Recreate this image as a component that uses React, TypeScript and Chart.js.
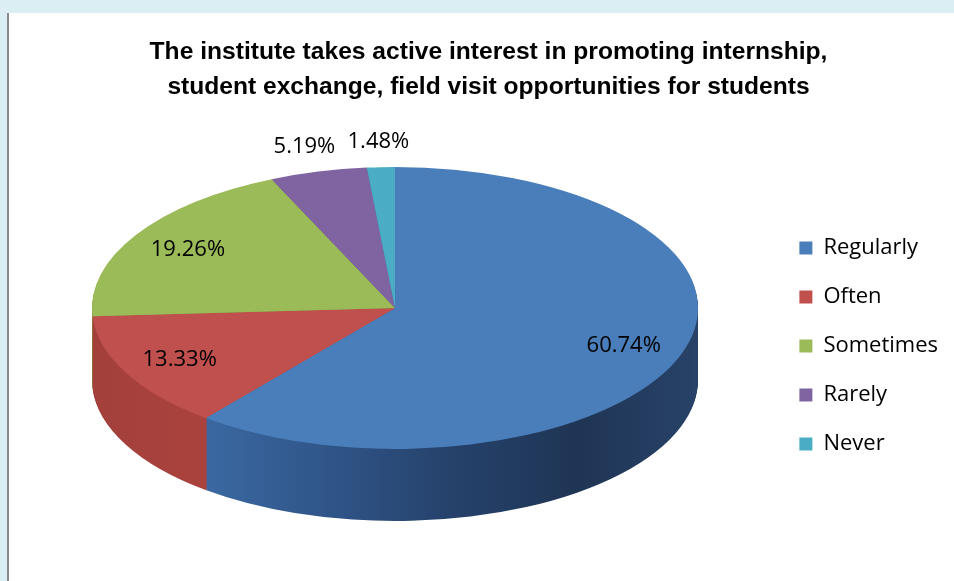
import React, { useEffect, useRef } from "react";
import { Chart, registerables } from "chart.js";

Chart.register(...registerables);

const categories = ["Regularly", "Often", "Sometimes", "Rarely", "Never"];
const percentages = [60.74, 13.33, 19.26, 5.19, 1.48];
const sliceColors = ["#4a7ebb", "#c0504d", "#9bbb59", "#8064a2", "#4bacc6"];
const sideColorStops: string[][] = [
  ["#3b69a2", "#3a67a0", "#2f5487", "#25416a", "#1f3555", "#284268"],
  ["#a3403c", "#b5463f", "#b5463f"],
  ["#7d9a45", "#7d9a45"],
  ["#634c80", "#634c80"],
  ["#3a8ba1", "#3a8ba1"],
];
const titleLines = [
  "The institute takes active interest in promoting internship,",
  "student exchange, field visit opportunities for students",
];

const PIE = { cx: 395, cy: 308, rx: 303, ry: 141, depth: 72 };
const OUTSIDE_LIMIT = 10;

const pie3d = {
  id: "pie3d",
  beforeDatasetsDraw(chart: any) {
    const ctx = chart.ctx as CanvasRenderingContext2D;
    const arcs = chart.getDatasetMeta(0).data as any[];
    if (!arcs.length) return;
    const a0 = arcs[0];
    const k = PIE.ry / PIE.rx;
    const grads = arcs.map((_, i) => {
      const g = ctx.createLinearGradient(a0.x - PIE.rx, 0, a0.x + PIE.rx, 0);
      const stops = sideColorStops[i];
      stops.forEach((c, j) => g.addColorStop(j / (stops.length - 1), c));
      return g;
    });
    for (let d = PIE.depth; d >= 1; d--) {
      ctx.save();
      ctx.translate(PIE.cx, PIE.cy + d);
      ctx.scale(1, k);
      ctx.translate(-a0.x, -a0.y);
      arcs.forEach((arc, i) => {
        const o = arc.options;
        const bg = o.backgroundColor;
        o.backgroundColor = grads[i];
        arc.draw(ctx);
        o.backgroundColor = bg;
      });
      ctx.restore();
    }
    ctx.save();
    ctx.translate(PIE.cx, PIE.cy);
    ctx.scale(1, k);
    ctx.translate(-a0.x, -a0.y);
  },
  afterDatasetsDraw(chart: any) {
    const arcs = chart.getDatasetMeta(0).data as any[];
    if (!arcs.length) return;
    chart.ctx.restore();
  },
};

const sliceLabels = {
  id: "sliceLabels",
  afterDatasetsDraw(chart: any) {
    const ctx = chart.ctx as CanvasRenderingContext2D;
    const arcs = chart.getDatasetMeta(0).data as any[];
    ctx.save();
    ctx.font = '22px "Open Sans", sans-serif';
    ctx.fillStyle = "#000";
    ctx.textAlign = "center";
    ctx.textBaseline = "middle";
    arcs.forEach((arc, i) => {
      const { startAngle, endAngle } = arc.getProps(["startAngle", "endAngle"], true);
      const mid = (startAngle + endAngle) / 2;
      const v = percentages[i];
      const f = v < OUTSIDE_LIMIT ? 1.18 : 0.8;
      ctx.fillText(
        v.toFixed(2) + "%",
        PIE.cx + PIE.rx * f * Math.cos(mid),
        PIE.cy + PIE.ry * f * Math.sin(mid)
      );
    });
    ctx.restore();
  },
};

export default function App() {
  const ref = useRef<HTMLCanvasElement>(null);
  useEffect(() => {
    const chart = new Chart(ref.current as HTMLCanvasElement, {
      type: "pie",
      data: {
        labels: categories,
        datasets: [
          {
            data: percentages,
            backgroundColor: sliceColors,
            borderWidth: 0,
            radius: PIE.rx,
            clip: false,
          } as any,
        ],
      },
      options: {
        responsive: false,
        animation: false,
        events: [],
        layout: { padding: { left: 29, right: 6, top: 0, bottom: 0 } },
        plugins: {
          title: {
            display: true,
            text: titleLines,
            color: "#000",
            font: { family: '"Liberation Sans", Arial, sans-serif', size: 24.6, weight: "bold", lineHeight: 1.42 },
            padding: { top: 35, bottom: 6 },
          },
          legend: {
            position: "right",
            fullSize: false,
            labels: {
              boxWidth: 13,
              boxHeight: 13,
              color: "#000",
              font: { family: '"Open Sans", sans-serif', size: 22 },
              padding: 27,
            },
          },
          tooltip: { enabled: false },
        },
      } as any,
      plugins: [pie3d, sliceLabels],
    });
    return () => chart.destroy();
  }, []);
  return (
    <div
      style={{
        position: "fixed",
        left: 0,
        top: 0,
        width: 954,
        height: 581,
        background: "#dbeef4",
        overflow: "hidden",
      }}
    >
      <div
        style={{
          position: "absolute",
          left: 7,
          top: 13,
          right: 0,
          bottom: 0,
          background: "#ffffff",
          borderLeft: "2px solid #8a8a8a",
        }}
      />
      <canvas ref={ref} width={954} height={581} style={{ position: "absolute", left: 0, top: 0 }} />
    </div>
  );
}
